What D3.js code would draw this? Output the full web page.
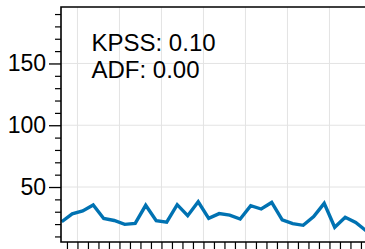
<!DOCTYPE html>
<html>
<head>
<meta charset="utf-8">
<script src="https://cdn.jsdelivr.net/npm/d3@7"></script>
<style>
  body { margin: 0; background: #fff; }
  svg { display: block; font-family: 'Liberation Sans', Arial, sans-serif; }
</style>
</head>
<body>
<div id="chart"></div>
<script>
// series values, one per period
const values = [21.9, 28.3, 30.6, 35.4, 24.5, 22.9, 19.8, 20.6, 35.2, 22.7,
  21.5, 35.7, 26.8, 38.1, 24.6, 28.5, 27.3, 24.1, 34.9, 32.2,
  37.5, 23.5, 20.4, 19.0, 26.0, 36.8, 17.4, 25.5, 21.3, 14.5]
const yTicks = [50, 100, 150]
const statLines = ['KPSS: 0.10', 'ADF: 0.00']

const width = 365
const height = 249
const margin = { top: 7, left: 61, bottom: 7 }
const plotRight = 400

const svg = d3
  .select('#chart')
  .append('svg')
  .attr('width', width)
  .attr('height', height)

const x = d3.scaleLinear().domain([0, values.length - 1]).range([61.7, 61.7 + 10.5 * (values.length - 1)])
const y = d3.scaleLinear().domain([5.5, 195.7]).range([height - margin.bottom, margin.top])

svg.append('clipPath').attr('id', 'clip')
  .append('rect')
  .attr('x', margin.left).attr('y', margin.top)
  .attr('width', plotRight - margin.left).attr('height', y(5.5) - margin.top)

// grid
const xMajor = d3.range(1.5, values.length + 2, 4)
const xMinor = d3.range(0.5, values.length + 2, 1)

const grid = svg.append('g').attr('clip-path', 'url(#clip)')
grid.selectAll('.gx')
  .data(xMajor)
  .join('line')
  .attr('x1', d => x(d)).attr('x2', d => x(d))
  .attr('y1', margin.top).attr('y2', y(5.5))
  .attr('stroke', '#e3e3e3').attr('stroke-width', 1)
grid.selectAll('.gy')
  .data(yTicks)
  .join('line')
  .attr('x1', margin.left).attr('x2', plotRight)
  .attr('y1', d => y(d)).attr('y2', d => y(d))
  .attr('stroke', '#e3e3e3').attr('stroke-width', 1)

// line
const line = d3.line().x((d, i) => x(i)).y(d => y(d))
svg.append('path')
  .datum(values)
  .attr('clip-path', 'url(#clip)')
  .attr('d', line)
  .attr('fill', 'none')
  .attr('stroke', '#0072b2')
  .attr('stroke-width', 3.4)
  .attr('stroke-linejoin', 'miter')

// y axis
const yAxis = d3.axisLeft(y).tickValues(yTicks).tickSize(12).tickPadding(3)
const gy = svg.append('g')
  .attr('transform', `translate(${margin.left},0)`)
  .call(yAxis)
gy.select('.domain').remove()
gy.selectAll('.tick line').attr('stroke', '#000').attr('stroke-width', 1.3)
gy.selectAll('.tick text').attr('font-size', 23).attr('fill', '#000')
  .attr('font-family', "'Liberation Sans', Arial, sans-serif")

const yMinor = d3.range(10, 200, 10).filter(d => !yTicks.includes(d))
const gyMinor = svg.append('g')
  .attr('transform', `translate(${margin.left},0)`)
  .call(d3.axisLeft(y).tickValues(yMinor).tickSize(6).tickFormat(''))
gyMinor.select('.domain').remove()
gyMinor.selectAll('.tick line').attr('stroke', '#000').attr('stroke-width', 1.2)

// x axis (labels fall below the visible area)
const gx = svg.append('g')
  .attr('transform', `translate(0,${y(5.5)})`)
  .call(d3.axisBottom(x).tickValues(xMinor).tickSize(8).tickFormat(''))
gx.select('.domain').remove()
gx.selectAll('.tick line').attr('stroke', '#000').attr('stroke-width', 1.2)

// spines
svg.append('path')
  .attr('d', `M${plotRight},${margin.top}H${margin.left}V${y(5.5)}H${plotRight}`)
  .attr('fill', 'none')
  .attr('stroke', '#000')
  .attr('stroke-width', 1.6)

// stats annotation
svg.append('text')
  .attr('x', 91.5)
  .attr('y', 50.7)
  .attr('font-size', 24)
  .attr('fill', '#000')
  .selectAll('tspan')
  .data(statLines)
  .join('tspan')
  .attr('x', 91.5)
  .attr('dy', (d, i) => (i === 0 ? 0 : 27.6))
  .text(d => d)
</script>
</body>
</html>
